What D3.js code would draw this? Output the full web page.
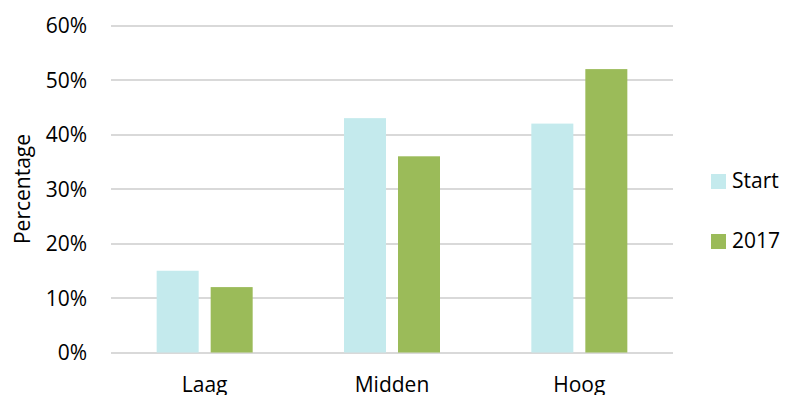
<!DOCTYPE html>
<html>
<head>
<meta charset="utf-8">
<script src="https://cdn.jsdelivr.net/npm/d3@7"></script>
<style>
  body { margin: 0; background: #fff; }
  text { font-family: "Open Sans", sans-serif; fill: #000; }
</style>
</head>
<body>
<svg id="chart" width="787" height="395"></svg>
<script>
var categories = ["Laag", "Midden", "Hoog"];
var series = ["Start", "2017"];
var startValues = [15, 43, 42];
var values2017 = [12, 36, 52];
var yTicks = [0, 10, 20, 30, 40, 50, 60];
var colors = ["#c4eaed", "#9bbb59"];

var data = categories.map(function (c, i) {
    return { cat: c, vals: [startValues[i], values2017[i]] };
});

var svg = d3.select("#chart");
var plotLeft = 111, plotRight = 673, plotTop = 25.5, plotBottom = 352.5;
var fontSize = "21px";

var x0 = d3.scaleBand().domain(categories).range([plotLeft, plotRight]).padding(0);
var grp = 96;
var x1 = d3.scaleBand().domain(series)
    .range([(x0.bandwidth() - grp) / 2, (x0.bandwidth() + grp) / 2])
    .paddingInner(2 - grp / 54).paddingOuter(0);
var y = d3.scaleLinear().domain([0, 60]).range([plotBottom, plotTop]);

// gridlines
svg.append("g").selectAll("line")
    .data(yTicks)
    .enter().append("line")
    .attr("x1", plotLeft).attr("x2", plotRight)
    .attr("y1", function (d) { return Math.round(y(d)); })
    .attr("y2", function (d) { return Math.round(y(d)); })
    .attr("stroke", "#d9d9d9").attr("stroke-width", 2);

// y tick labels
svg.append("g").selectAll("text")
    .data(yTicks)
    .enter().append("text")
    .attr("x", 87)
    .attr("y", function (d) { return y(d); })
    .attr("dy", "0.36em")
    .attr("text-anchor", "end")
    .style("font-size", fontSize)
    .text(function (d) { return d + "%"; });

svg.append("text")
    .attr("transform", "translate(30,189)rotate(-90)")
    .attr("text-anchor", "middle")
    .style("font-size", fontSize)
    .text("Percentage");

// bars
var g = svg.append("g").selectAll("g")
    .data(data)
    .enter().append("g")
    .attr("transform", function (d) { return "translate(" + x0(d.cat) + ",0)"; });

g.selectAll("rect")
    .data(function (d) { return d.vals.map(function (v, i) { return { s: series[i], v: v, i: i }; }); })
    .enter().append("rect")
    .attr("x", function (d) { return x1(d.s); })
    .attr("width", x1.bandwidth())
    .attr("y", function (d) { return y(d.v); })
    .attr("height", function (d) { return y(0) - y(d.v); })
    .attr("fill", function (d) { return colors[d.i]; });

// category labels
svg.append("g").selectAll("text")
    .data(categories)
    .enter().append("text")
    .attr("x", function (d) { return x0(d) + x0.bandwidth() / 2; })
    .attr("y", 392)
    .attr("text-anchor", "middle")
    .style("font-size", fontSize)
    .text(function (d) { return d; });

// legend
var legY = [174, 234];
var leg = svg.append("g").selectAll("g")
    .data(series)
    .enter().append("g")
    .attr("transform", function (d, i) { return "translate(711," + legY[i] + ")"; });
leg.append("rect").attr("width", 15).attr("height", 15)
    .attr("fill", function (d, i) { return colors[i]; });
leg.append("text").attr("x", 21).attr("y", 13.5)
    .style("font-size", fontSize)
    .text(function (d) { return d; });
</script>
</body>
</html>
